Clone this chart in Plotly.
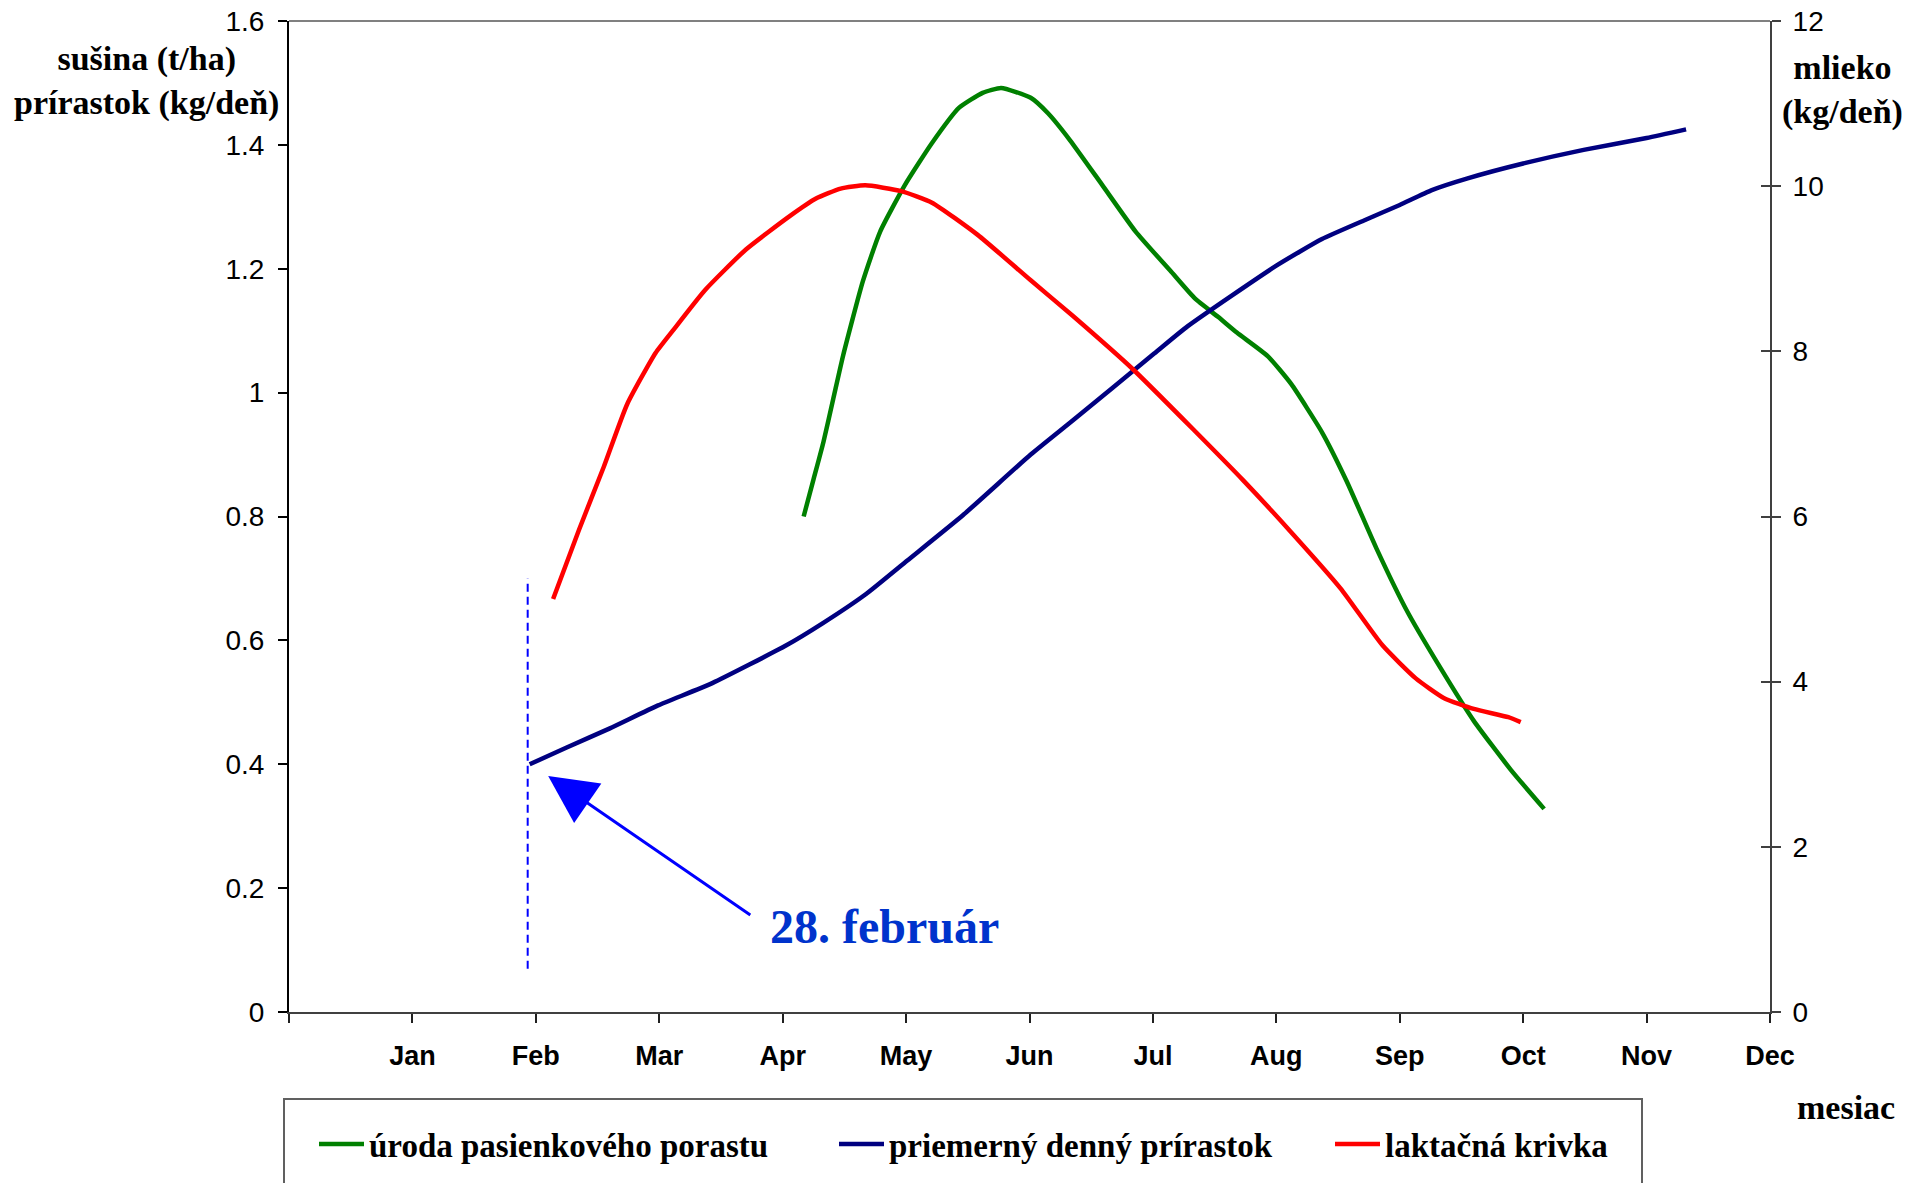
import plotly.graph_objects as go

# ---------------- data ----------------
month_labels = ["Jan", "Feb", "Mar", "Apr", "May", "Jun", "Jul", "Aug", "Sep", "Oct", "Nov", "Dec"]
month_ticks = [0, 1, 2, 3, 4, 5, 6, 7, 8, 9, 10, 11, 12]
left_ticks = [0, 0.2, 0.4, 0.6, 0.8, 1.0, 1.2, 1.4, 1.6]
left_labels = ["0", "0.2", "0.4", "0.6", "0.8", "1", "1.2", "1.4", "1.6"]
right_ticks = [0, 2, 4, 6, 8, 10, 12]

# úroda pasienkového porastu (left axis, t/ha)
green_x = [4.17, 4.25, 4.33, 4.41, 4.49, 4.65, 4.79, 4.99, 5.21, 5.43, 5.62, 5.77, 6.01, 6.15,
           6.33, 6.59, 6.86, 7.14, 7.34, 7.53, 7.68, 7.93, 8.12, 8.37, 8.57, 8.81, 9.06, 9.31,
           9.60, 9.90, 10.17]
green_y = [0.80, 0.86, 0.92, 0.99, 1.06, 1.18, 1.26, 1.335, 1.403, 1.46, 1.484, 1.492, 1.476, 1.451,
           1.407, 1.335, 1.26, 1.197, 1.152, 1.122, 1.097, 1.059, 1.014, 0.936, 0.857, 0.749, 0.647, 0.562,
           0.47, 0.391, 0.328]

# priemerný denný prírastok (left axis, kg/deň)
blue_x = [1.95, 2.25, 2.6, 2.99, 3.43, 4.03, 4.32, 4.67, 5.01, 5.46, 6.01, 6.35, 7.01, 7.28,
          8.0, 8.37, 8.71, 9.0, 9.26, 9.55, 10.0, 10.49, 11.0, 11.32]
blue_y = [0.40, 0.427, 0.458, 0.495, 0.531, 0.592, 0.627, 0.674, 0.729, 0.802, 0.90, 0.955, 1.063, 1.107,
          1.205, 1.248, 1.278, 1.303, 1.327, 1.346, 1.37, 1.392, 1.411, 1.425]

# laktačná krivka (right axis, mlieko kg/deň)
red_x = [2.14, 2.35, 2.55, 2.74, 2.97, 3.12, 3.37, 3.70, 4.06, 4.27, 4.47, 4.67, 4.96, 5.21,
         5.58, 6.01, 6.35, 6.84, 7.33, 7.73, 8.12, 8.52, 8.86, 9.13, 9.36, 9.60, 9.88, 9.98]
red_y = [5.0, 5.84, 6.60, 7.36, 7.98, 8.27, 8.74, 9.23, 9.64, 9.85, 9.97, 10.01, 9.94, 9.80,
         9.41, 8.86, 8.43, 7.78, 7.05, 6.44, 5.81, 5.13, 4.44, 4.04, 3.80, 3.67, 3.57, 3.51]

# 28. február marker
marker_x = [1.934, 1.934]
marker_y = [0.07, 0.70]
arrow_tip = (2.10, 0.381)
arrow_tail = (3.75, 0.155)
label_pos = (3.88, 0.138)

# ---------------- layout helpers ----------------
W, H = 1910, 1183
L, R, T, B = 289, 1770, 21, 1012   # plot area in page pixels


def px(x):
    return (x - L) / (R - L)


def py(y):
    return (B - y) / (B - T)


serif = "Liberation Serif, Times New Roman, serif"
sans = "Liberation Sans, Arial, sans-serif"

fig = go.Figure()

fig.add_trace(go.Scatter(x=marker_x, y=marker_y, mode="lines", showlegend=False,
                         line=dict(color="#0000FF", width=2, dash="8px,5px"), hoverinfo="skip"))

fig.add_trace(go.Scatter(x=green_x, y=green_y, mode="lines", name="úroda pasienkového porastu",
                         line=dict(color="#008000", width=4.5, shape="spline", smoothing=0.5),
                         legend="legend"))
fig.add_trace(go.Scatter(x=blue_x, y=blue_y, mode="lines", name="priemerný denný prírastok",
                         line=dict(color="#000080", width=4.5, shape="spline", smoothing=0.5),
                         legend="legend2"))
fig.add_trace(go.Scatter(x=red_x, y=red_y, mode="lines", name="laktačná krivka",
                         line=dict(color="#FF0000", width=4.5, shape="spline", smoothing=0.5),
                         yaxis="y2", legend="legend3"))
# empty trace carrying the inner half of the crossing right-axis ticks
fig.add_trace(go.Scatter(x=[], y=[], yaxis="y3", showlegend=False, hoverinfo="skip"))

leg_common = dict(orientation="h", xanchor="left", yanchor="middle", y=py(1144),
                  font=dict(family=serif, size=33, color="black", weight="bold"),
                  bgcolor="rgba(0,0,0,0)", borderwidth=0, itemwidth=45)

fig.update_layout(
    width=W, height=H,
    margin=dict(l=L, r=W - R, t=T, b=H - B, pad=0, autoexpand=False),
    paper_bgcolor="white", plot_bgcolor="white",
    showlegend=True,
    legend=dict(x=px(314), **leg_common),
    legend2=dict(x=px(834), **leg_common),
    legend3=dict(x=px(1330), **leg_common),
    xaxis=dict(range=[0, 12], tickmode="array", tickvals=month_ticks,
               ticktext=[""] + month_labels, showgrid=False, zeroline=False, automargin=False,
               showline=True, linecolor="#404040", linewidth=2,
               ticks="outside", ticklen=9, tickcolor="#202020", tickwidth=1.5,
               ticklabelstandoff=10, ticklabeloverflow="allow",
               tickfont=dict(family=sans, size=27, color="black", weight="bold")),
    yaxis=dict(range=[0, 1.6], tickmode="array", tickvals=left_ticks, ticktext=left_labels,
               showgrid=False, zeroline=False, automargin=False,
               showline=True, linecolor="black", linewidth=2,
               ticks="outside", ticklen=9, tickcolor="black", tickwidth=1.5,
               ticklabelstandoff=8, ticklabeloverflow="allow",
               tickfont=dict(family=sans, size=28, color="black")),
    yaxis2=dict(range=[0, 12], tickmode="array", tickvals=right_ticks, overlaying="y", side="right",
                showgrid=False, zeroline=False, automargin=False,
                showline=True, linecolor="#404040", linewidth=2,
                ticks="outside", ticklen=9, tickcolor="#404040", tickwidth=1.5,
                ticklabelstandoff=6, ticklabeloverflow="allow",
                tickfont=dict(family=sans, size=28, color="black")),
    yaxis3=dict(range=[0, 12], tickmode="array", tickvals=right_ticks, overlaying="y", side="right",
                showgrid=False, zeroline=False, showline=False, showticklabels=False, automargin=False,
                ticks="inside", ticklen=9, tickcolor="#404040", tickwidth=1.5),
    shapes=[
        dict(type="line", xref="paper", yref="paper", x0=0, x1=1, y0=1, y1=1,
             line=dict(color="#808080", width=2)),
        dict(type="rect", xref="paper", yref="paper", x0=px(284), x1=px(1642),
             y0=py(1099), y1=py(1200), line=dict(color="#606060", width=2),
             fillcolor="rgba(0,0,0,0)"),
    ],
    annotations=[
        dict(x=arrow_tip[0], y=arrow_tip[1], ax=arrow_tail[0], ay=arrow_tail[1],
             xref="x", yref="y", axref="x", ayref="y", text="", showarrow=True,
             arrowhead=2, arrowsize=3.2, arrowwidth=3, arrowcolor="#0000FF", standoff=0),
        dict(x=label_pos[0], y=label_pos[1], xref="x", yref="y", text="28. február",
             showarrow=False, xanchor="left", yanchor="middle",
             font=dict(family=serif, size=48, color="#0033CC", weight="bold")),
        dict(x=px(146), y=py(81), xref="paper", yref="paper",
             text="sušina (t/ha)<br>prírastok (kg/deň)", showarrow=False,
             xanchor="center", yanchor="middle", align="center",
             font=dict(family=serif, size=34, color="black", weight="bold")),
        dict(x=px(1843), y=py(90), xref="paper", yref="paper",
             text="mlieko<br>(kg/deň)", showarrow=False,
             xanchor="center", yanchor="middle", align="center",
             font=dict(family=serif, size=34, color="black", weight="bold")),
        dict(x=px(1897), y=py(1107), xref="paper", yref="paper",
             text="mesiac", showarrow=False, xanchor="right", yanchor="middle",
             font=dict(family=serif, size=34, color="black", weight="bold")),
    ],
)

# place the figure at the page's top-left corner (remove the default body margin)
fig.write_html("out.html", config={"displayModeBar": False},
               post_script="document.body.style.margin='0';")
